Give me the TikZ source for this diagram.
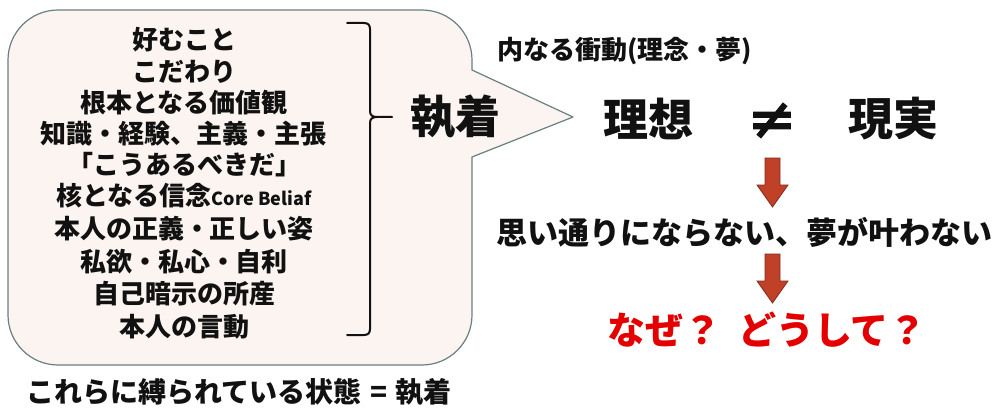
\documentclass[tikz,border=0pt]{standalone}
\usepackage{fontspec}
\newfontfamily\jp{Noto Sans CJK JP}
\newfontfamily\dv{DejaVu Sans}[FakeBold=2.5]
\definecolor{bubfill}{RGB}{252,244,240}
\definecolor{bubline}{RGB}{105,128,128}
\definecolor{txt}{RGB}{17,17,17}
\definecolor{redtxt}{RGB}{228,0,0}
\definecolor{arrfill}{RGB}{192,64,40}
\definecolor{arrline}{RGB}{130,45,30}
\tikzset{
  lst/.style={font=\jp\bfseries\fontsize{26}{30}\selectfont, text=txt, inner sep=0pt, anchor=center},
  bigt/.style={font=\jp\bfseries\fontsize{45}{50}\selectfont, text=txt, inner sep=0pt, anchor=center},
  midt/.style={font=\jp\bfseries\fontsize{31}{36}\selectfont, text=txt, inner sep=0pt, anchor=center},
  smt/.style={font=\jp\bfseries\fontsize{26}{30}\selectfont, text=txt, inner sep=0pt},
  redt/.style={font=\jp\bfseries\fontsize{38}{42}\selectfont, text=redtxt, inner sep=0pt, anchor=center},
  bott/.style={font=\jp\bfseries\fontsize{28}{32}\selectfont, text=txt, inner sep=0pt, anchor=center},
  neqt/.style={font=\dv\fontsize{58}{60}\selectfont, text=txt, inner sep=0pt, anchor=center},
  bubble/.style={draw=bubline, fill=bubfill, line width=1.2pt, line join=round},
  bracepath/.style={draw=txt, line width=2pt, line cap=round},
  blockarrow/.style={fill=arrfill, draw=arrline, line width=0.8pt, line join=miter}
}
\begin{document}
\begin{tikzpicture}[x=1pt,y=-1pt]
\useasboundingbox (0,0) rectangle (997,412);
\fill[white] (0,0) rectangle (997,412);
% speech bubble
\draw[bubble] (8,60) .. controls (8,32.4) and (30.4,10) .. (58,10) -- (422,10)
  .. controls (449.6,10) and (472,32.4) .. (472,60) -- (472,70) -- (573,117) -- (472,157)
  -- (472,315) .. controls (472,342.6) and (449.6,365) .. (422,365) -- (58,365)
  .. controls (30.4,365) and (8,342.6) .. (8,315) -- cycle;
% list
\node[lst] (l1) at (184,40) {好むこと};
\node[lst] (l2) at (184,72) {こだわり};
\node[lst] (l3) at (184,103) {根本となる価値観};
\node[lst] (l4) at (184,134) {知識・経験、主義・主張};
\node[lst] (l5) at (184,165) {「こうあるべきだ」};
\node[lst] (l6) at (184,196) {核となる信念{\fontsize{18}{20}\selectfont Core Beliaf}};
\node[lst] (l7) at (184,229) {本人の正義・正しい姿};
\node[lst] (l8) at (184,262) {私欲・私心・自利};
\node[lst] (l9) at (184,294) {自己暗示の所産};
\node[lst] (l10) at (184,327) {本人の言動};
% brace
\draw[bracepath] (347,23) -- (364,23) .. controls (368,23) and (370,25) .. (370,29) -- (370,111)
  .. controls (370,115) and (372,117) .. (377,117) -- (392,117);
\draw[bracepath] (377,117) .. controls (372,117) and (370,119) .. (370,123) -- (370,329)
  .. controls (370,333) and (368,335) .. (364,335) -- (347,335);
\node[bigt] (shu) at (455,117) {執着};
% right side
\node[smt, anchor=west] (inner) at (497,51) {内なる衝動(理念・夢)};
\node[bigt] (riso) at (648,119) {理想};
\node[neqt] (neq) at (772,121) {≠};
\node[bigt] (gen) at (893,119) {現実};
\draw[blockarrow] (765,158) -- (780,158) -- (780,185) -- (788,185) -- (772.5,207) -- (757,185) -- (765,185) -- cycle;
\node[midt] (omoi) at (744,232) {思い通りにならない、夢が叶わない};
\draw[blockarrow] (765,254) -- (780,254) -- (780,281) -- (788,281) -- (772.5,303) -- (757,281) -- (765,281) -- cycle;
\node[redt] (naze) at (767,330) {なぜ？\hspace{0.45em}どうして？};
\node[bott] (bottom) at (239,392) {これらに縛られている状態\hspace{0.3em}=\hspace{0.3em}執着};
\end{tikzpicture}
\end{document}
